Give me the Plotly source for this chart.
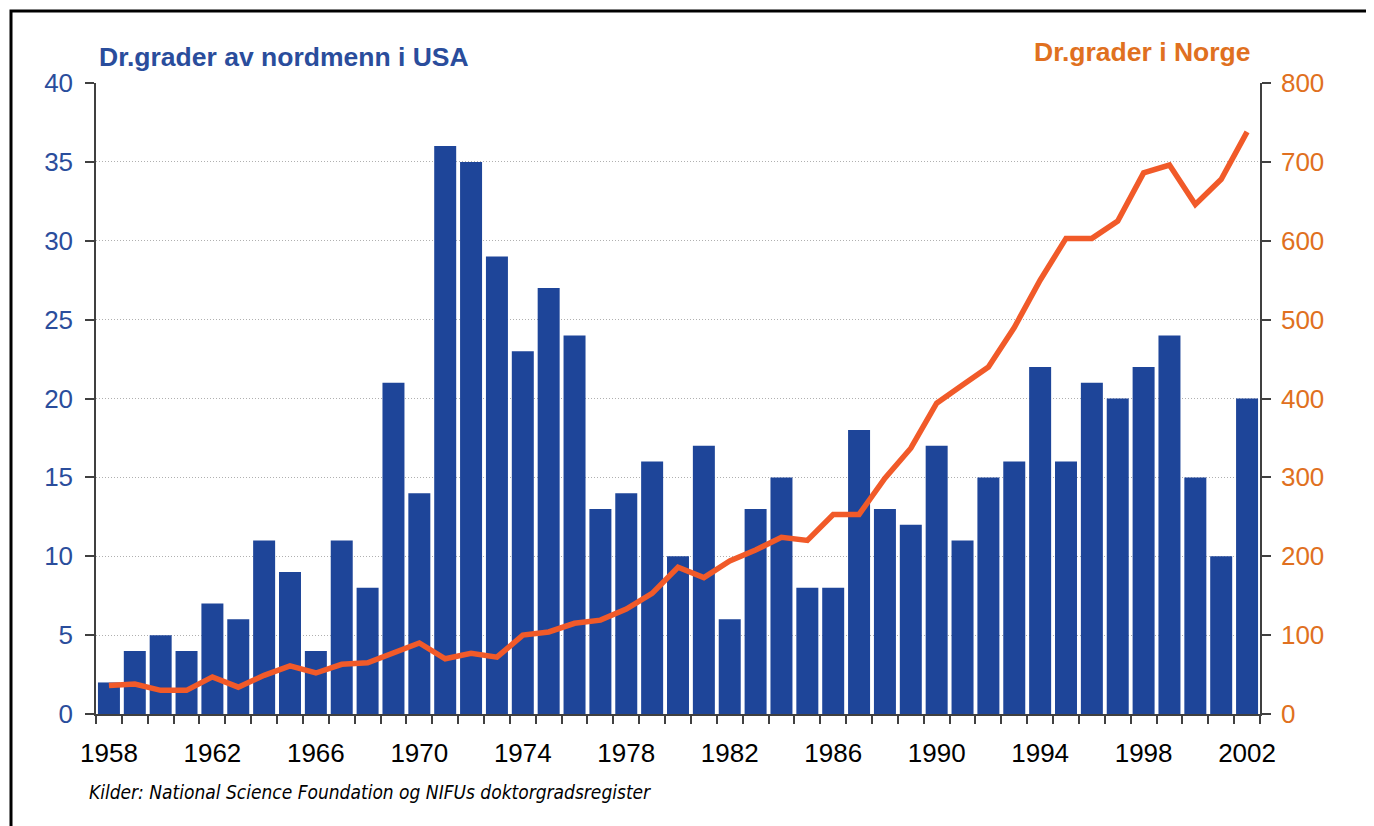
import plotly.graph_objects as go

years = list(range(1958, 2003))
usa_degrees = [2, 4, 5, 4, 7, 6, 11, 9, 4, 11, 8, 21, 14, 36, 35, 29, 23, 27, 24, 13,
               14, 16, 10, 17, 6, 13, 15, 8, 8, 18, 13, 12, 17, 11, 15, 16, 22, 16,
               21, 20, 22, 24, 15, 10, 20]
norway_degrees = [36, 38, 30, 30, 47, 34, 49, 61, 52, 63, 65, 77, 90, 70, 77, 72, 100,
                  104, 115, 119, 133, 153, 186, 173, 194, 208, 224, 220, 253, 253, 299,
                  337, 394, 417, 440, 490, 550, 603, 603, 625, 686, 696, 646, 678, 738]
x_tick_labels = [str(y) for y in range(1958, 2003, 4)]
left_ticks = [0, 5, 10, 15, 20, 25, 30, 35, 40]
right_ticks = [0, 100, 200, 300, 400, 500, 600, 700, 800]

W, H = 1374, 826
OFF = 8  # page body margin
L, R, T, B = 96 - OFF, 1260 - OFF, 83 - OFF, 714 - OFF
PW, PH = R - L, B - T


def px(x):
    return (x - OFF - L) / PW


def py(y):
    return (B - (y - OFF)) / PH


BLUE = "#1e4599"
ORANGE = "#f15a29"
BLUE_TXT = "#2a4d9c"
ORANGE_TXT = "#e07020"
NARROW = "Liberation Sans Narrow, Arial Narrow, DejaVu Sans Condensed, Liberation Sans"

fig = go.Figure()
fig.add_trace(go.Bar(x=years, y=usa_degrees, marker=dict(color=BLUE, line=dict(width=0)),
                     yaxis="y", showlegend=False))
fig.add_trace(go.Scatter(x=years, y=norway_degrees, mode="lines",
                         line=dict(color=ORANGE, width=5.5), yaxis="y2", showlegend=False))

fig.update_layout(
    width=W, height=H,
    margin=dict(l=L, r=W - R, t=T, b=H - B, pad=0),
    paper_bgcolor="white", plot_bgcolor="white",
    bargap=0.15,
    font=dict(family="Liberation Sans, Arial, sans-serif"),
    xaxis=dict(
        range=[1957.5, 2002.5], tickmode="array",
        tickvals=list(range(1958, 2003, 4)), ticktext=x_tick_labels,
        ticks="", showgrid=False, zeroline=False,
        showline=True, linecolor="#404040", linewidth=1.5,
        tickfont=dict(family="Liberation Sans, Arial", size=26, color="black"),
        ticklabelstandoff=15,
        minor=dict(tick0=1957.5, dtick=1, ticks="outside", ticklen=8, tickcolor="#404040", tickwidth=1.5, showgrid=False),
    ),
    yaxis=dict(
        range=[0, 40], tickmode="array", tickvals=left_ticks,
        ticks="outside", ticklen=9, tickcolor="#404040", tickwidth=1.5,
        showline=True, linecolor="#404040", linewidth=1.5,
        showgrid=True, gridcolor="#b0b0b0", gridwidth=1, griddash="1px,2px",
        zeroline=False,
        tickfont=dict(size=26, color=BLUE_TXT),
        ticklabelstandoff=7,
    ),
    yaxis2=dict(
        range=[0, 800], tickmode="array", tickvals=right_ticks,
        overlaying="y", side="right", anchor="x",
        ticks="outside", ticklen=9, tickcolor="#404040", tickwidth=1.5,
        showline=True, linecolor="#404040", linewidth=1.5,
        showgrid=False, zeroline=False,
        tickfont=dict(size=26, color=ORANGE_TXT),
        ticklabelstandoff=5,
    ),
    shapes=[dict(type="rect", xref="paper", yref="paper",
                 x0=px(11), x1=px(1368), y0=py(850), y1=py(11),
                 line=dict(color="black", width=3), fillcolor="rgba(0,0,0,0)", layer="above")],
    annotations=[
        dict(text="<b>Dr.grader av nordmenn i USA</b>", xref="paper", yref="paper",
             x=px(97), y=py(57), xanchor="left", yanchor="middle", showarrow=False,
             font=dict(size=26.5, color=BLUE_TXT)),
        dict(text="<b>Dr.grader i Norge</b>", xref="paper", yref="paper",
             x=px(1252), y=py(52), xanchor="right", yanchor="middle", showarrow=False,
             font=dict(size=26.5, color=ORANGE_TXT)),
        dict(text="<i>Kilder: National Science Foundation og NIFUs doktorgradsregister</i>",
             xref="paper", yref="paper", x=px(87), y=py(792), xanchor="left", yanchor="middle",
             showarrow=False,
             font=dict(family=NARROW, size=19, color="black")),
    ],
)

fig.write_html("out.html")
